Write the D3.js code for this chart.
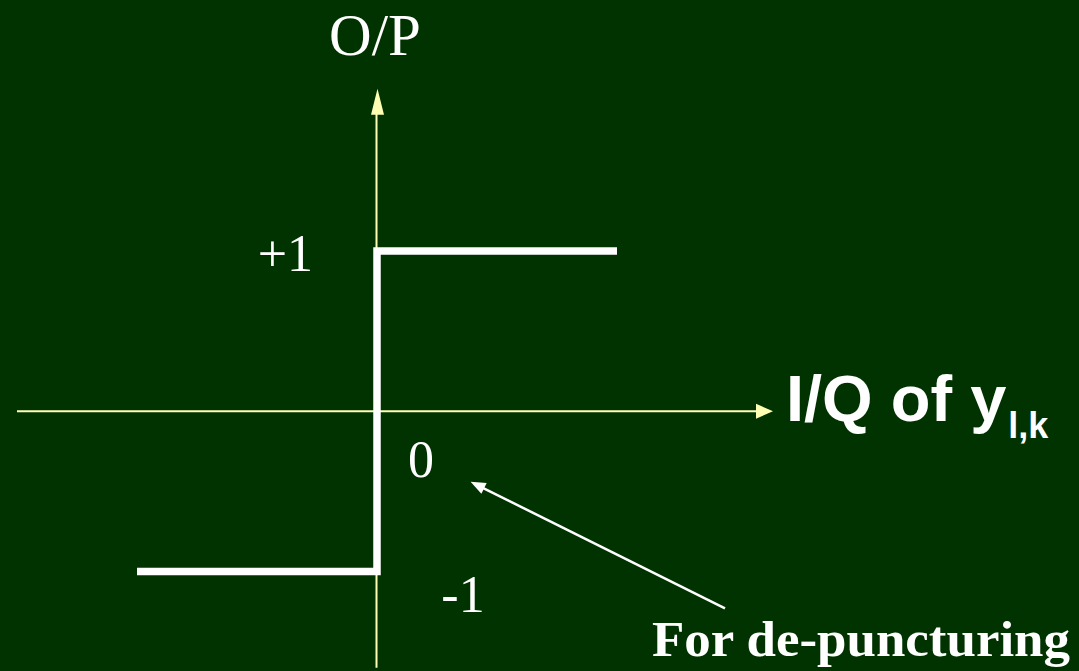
<!DOCTYPE html>
<html>
<head>
<meta charset="utf-8">
<script src="https://cdn.jsdelivr.net/npm/d3@7"></script>
<style>
    html, body { margin: 0; padding: 0; background: #003300; overflow: hidden; }
</style>
</head>
<body>
<div id="chart"></div>
<script>
// hard limiter transfer curve: output -1 for negative input, +1 for positive
const stepX = [-1, 0, 0, 1];
const stepY = [-1, -1, 1, 1];

// axis extents in data units
const xAxisExtent = [-1.5, 1.65];
const yAxisExtent = [-1.6, 2.0];

// value labels on the output axis
const tickValues = [1, 0, -1];
const tickLabels = ['+1', '0', '-1'];

// annotation arrow, tail -> tip, in data units
const noteFrom = [1.45, -1.23];
const noteTo = [0.39, -0.44];
const noteText = 'For de-puncturing';

let width = 1079,
    height = 671;

let xScale = d3.scaleLinear()
    .domain([-1, 1])
    .range([137, 617]);

let yScale = d3.scaleLinear()
    .domain([-1, 1])
    .range([571.5, 251]);

let svg = d3.select('#chart').append('svg')
    .attr('width', width)
    .attr('height', height);

svg.append('rect')
    .attr('width', width)
    .attr('height', height)
    .attr('fill', '#003300');

let axisColor = '#ffffb4';

// axes
let axis_g = svg.append('g')
    .attr('class', 'axis_g');

axis_g.append('line')
    .attr('x1', xScale(xAxisExtent[0]))
    .attr('x2', xScale(xAxisExtent[1]) - 14)
    .attr('y1', yScale(0))
    .attr('y2', yScale(0))
    .attr('stroke', axisColor)
    .attr('stroke-width', 2);

axis_g.append('path')
    .attr('d', () => {
        let tx = xScale(xAxisExtent[1]), ty = yScale(0);
        return `M${tx},${ty} L${tx - 17},${ty - 7.5} L${tx - 17},${ty + 7.5} Z`;
    })
    .attr('fill', axisColor);

axis_g.append('line')
    .attr('x1', xScale(0) - 0.5)
    .attr('x2', xScale(0) - 0.5)
    .attr('y1', yScale(yAxisExtent[0]))
    .attr('y2', yScale(yAxisExtent[1]) + 20)
    .attr('stroke', axisColor)
    .attr('stroke-width', 2);

axis_g.append('path')
    .attr('d', () => {
        let tx = xScale(0) + 0.5, ty = yScale(yAxisExtent[1]) - 2;
        return `M${tx},${ty} L${tx - 6.5},${ty + 26} L${tx + 6.5},${ty + 26} Z`;
    })
    .attr('fill', axisColor);

// step curve
let line = d3.line()
    .x(d => xScale(d[0]))
    .y(d => yScale(d[1]));

svg.append('path')
    .datum(d3.zip(stepX, stepY))
    .attr('d', line)
    .attr('fill', 'none')
    .attr('stroke', '#ffffff')
    .attr('stroke-width', 7.5)
    .attr('stroke-linejoin', 'miter');

// axis titles
svg.append('text')
    .attr('x', xScale(0) - 2)
    .attr('y', 55)
    .attr('text-anchor', 'middle')
    .style('font-family', '"Liberation Serif", "Times New Roman", serif')
    .style('font-size', '59px')
    .attr('fill', '#ffffff')
    .text('O/P');

let xTitle = svg.append('text')
    .attr('x', 786)
    .attr('y', 421)
    .style('font-family', '"Liberation Sans", Arial, sans-serif')
    .style('font-weight', 'bold')
    .style('font-size', '65px')
    .attr('fill', '#ffffff');

xTitle.append('tspan')
    .text('I/Q of y');

xTitle.append('tspan')
    .attr('dx', 2)
    .attr('dy', 17)
    .style('font-size', '36px')
    .text('l,k');

// value labels
let labelPos = {
    '1': {x: 313, y: 271, anchor: 'end'},
    '0': {x: 421, y: 477, anchor: 'middle'},
    '-1': {x: 463, y: 612, anchor: 'middle'}
};

svg.selectAll('.value-label')
    .data(d3.zip(tickValues, tickLabels))
    .join('text')
    .attr('class', 'value-label')
    .attr('x', d => labelPos[d[0]].x)
    .attr('y', d => labelPos[d[0]].y)
    .attr('text-anchor', d => labelPos[d[0]].anchor)
    .style('font-family', '"Liberation Serif", "Times New Roman", serif')
    .style('font-size', '52px')
    .attr('fill', '#ffffff')
    .text(d => d[1]);

// annotation
let ax1 = xScale(noteFrom[0]), ay1 = yScale(noteFrom[1]),
    ax2 = xScale(noteTo[0]), ay2 = yScale(noteTo[1]),
    ang = Math.atan2(ay2 - ay1, ax2 - ax1),
    headLen = 15, headHalf = 6;

svg.append('line')
    .attr('x1', ax1)
    .attr('y1', ay1)
    .attr('x2', ax2 - Math.cos(ang) * (headLen - 2))
    .attr('y2', ay2 - Math.sin(ang) * (headLen - 2))
    .attr('stroke', '#ffffff')
    .attr('stroke-width', 2.5);

svg.append('path')
    .attr('d', () => {
        let bx = ax2 - Math.cos(ang) * headLen,
            by = ay2 - Math.sin(ang) * headLen,
            px = -Math.sin(ang) * headHalf,
            py = Math.cos(ang) * headHalf;
        return `M${ax2},${ay2} L${bx + px},${by + py} L${bx - px},${by - py} Z`;
    })
    .attr('fill', '#ffffff');

svg.append('text')
    .attr('x', 652)
    .attr('y', 656)
    .attr('textLength', 418)
    .attr('lengthAdjust', 'spacingAndGlyphs')
    .style('font-family', '"Liberation Serif", "Times New Roman", serif')
    .style('font-weight', 'bold')
    .style('font-size', '50px')
    .attr('fill', '#ffffff')
    .text(noteText);
</script>
</body>
</html>
